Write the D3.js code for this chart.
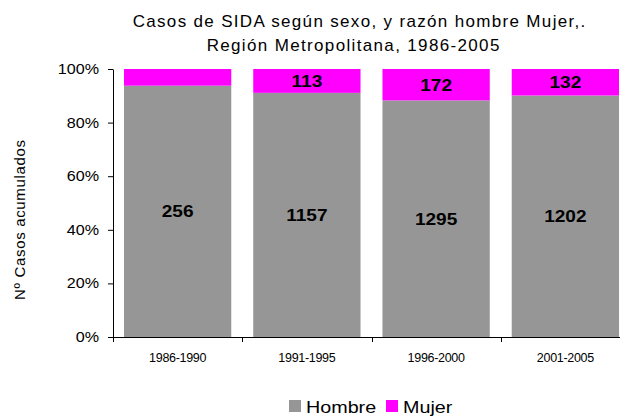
<!DOCTYPE html>
<html>
<head>
<meta charset="utf-8">
<script src="https://cdn.jsdelivr.net/npm/d3@7"></script>
<style>
  body { margin: 0; background: #fff; }
  svg { display: block; font-family: "Liberation Sans", Arial, sans-serif; }
</style>
</head>
<body>
<svg id="chart" width="626" height="416"></svg>
<script>
// chart data
const periods = ['1986-1990', '1991-1995', '1996-2000', '2001-2005'];
const hombre = [256, 1157, 1295, 1202];
const mujer = [17, 113, 172, 132];
const yTicks = [0, 0.2, 0.4, 0.6, 0.8, 1];
const seriesNames = ['Hombre', 'Mujer'];
const colors = ['#969696', '#ff00ff'];

const svg = d3.select('#chart');
const plot = {left: 113, top: 69, bottom: 337, right: 630};

// the original text is rendered a bit wider than Arial, widen it
function widen(sel, f, mode) {
  sel.each(function() {
    const len = this.getComputedTextLength();
    d3.select(this)
      .attr('textLength', len * f)
      .attr('lengthAdjust', mode || 'spacingAndGlyphs');
  });
}

const rows = periods.map((p, i) => ({period: p, Hombre: hombre[i], Mujer: mujer[i]}));
const stacked = d3.stack().keys(seriesNames).offset(d3.stackOffsetExpand)(rows);

const x = d3.scaleBand()
  .domain(periods)
  .range([plot.left, plot.right])
  .paddingInner(0.17)
  .paddingOuter(0.085);

const y = d3.scaleLinear()
  .domain([0, 1])
  .range([plot.bottom, plot.top]);

// title
svg.append('text')
  .attr('x', 359).attr('y', 27)
  .attr('text-anchor', 'middle')
  .attr('font-size', 17)
  .text('Casos de SIDA según sexo, y razón hombre Mujer,.')
  .call(widen, 1.16, 'spacing');
svg.append('text')
  .attr('x', 353).attr('y', 51)
  .attr('text-anchor', 'middle')
  .attr('font-size', 17)
  .text('Región Metropolitana, 1986-2005')
  .call(widen, 1.16, 'spacing');

// bars
const layers = svg.append('g')
  .selectAll('g')
  .data(stacked)
  .join('g')
    .attr('fill', (d, i) => colors[i]);

layers.selectAll('rect')
  .data(d => d)
  .join('rect')
    .attr('x', d => x(d.data.period))
    .attr('y', d => y(d[1]))
    .attr('width', x.bandwidth())
    .attr('height', d => y(d[0]) - y(d[1]));

// value labels (first Mujer segment has no label)
stacked.forEach((layer, li) => {
  svg.append('g')
    .selectAll('text')
    .data(layer.filter((d, i) => !(li === 1 && i === 0)))
    .join('text')
      .attr('x', d => x(d.data.period) + x.bandwidth() / 2)
      .attr('y', d => (y(d[0]) + y(d[1])) / 2 + 6)
      .attr('text-anchor', 'middle')
      .attr('font-size', 17)
      .attr('font-weight', 'bold')
      .text(d => d.data[layer.key])
      .call(widen, 1.12);
});

// y axis
const yAxis = d3.axisLeft(y)
  .tickValues(yTicks)
  .tickFormat(d3.format('.0%'))
  .tickSize(5)
  .tickSizeOuter(0);

const yG = svg.append('g')
  .attr('transform', `translate(${plot.left},0)`)
  .call(yAxis);
yG.select('.domain').attr('stroke', '#000');
yG.selectAll('.tick line').attr('stroke', '#000');
yG.selectAll('.tick text')
  .attr('font-size', 14)
  .attr('font-family', '"Liberation Sans", Arial, sans-serif')
  .attr('fill', '#000')
  .attr('x', -14)
  .call(widen, 1.15);

// x axis: ticks at category boundaries
const step = x.step();
const boundaries = periods.map(p => x(p) - step * 0.085);
const xG = svg.append('g').attr('transform', `translate(0,${plot.bottom})`);
xG.append('line')
  .attr('x1', plot.left).attr('x2', 620)
  .attr('y1', 0.5).attr('y2', 0.5)
  .attr('stroke', '#000');
xG.selectAll('.bt')
  .data(boundaries)
  .join('line')
    .attr('class', 'bt')
    .attr('x1', d => Math.round(d) + 0.5).attr('x2', d => Math.round(d) + 0.5)
    .attr('y1', 0).attr('y2', 5)
    .attr('stroke', '#000');
xG.selectAll('.lbl')
  .data(periods)
  .join('text')
    .attr('class', 'lbl')
    .attr('x', d => x(d) + x.bandwidth() / 2)
    .attr('y', 25)
    .attr('text-anchor', 'middle')
    .attr('font-size', 12.5)
    .attr('letter-spacing', -0.3)
    .text(d => d);

// y axis title
svg.append('text')
  .attr('transform', 'translate(25,220) rotate(-90)')
  .attr('text-anchor', 'middle')
  .attr('font-size', 15)
  .text('Nº Casos acumulados')
  .call(widen, 1.08, 'spacing');

// legend
const legend = svg.append('g').attr('transform', 'translate(289,400)');
const items = [
  {name: 'Hombre', x: 0},
  {name: 'Mujer', x: 97}
];
items.forEach((it, i) => {
  legend.append('rect')
    .attr('x', it.x).attr('y', 0)
    .attr('width', 12).attr('height', 12)
    .attr('fill', colors[i]);
  legend.append('text')
    .attr('x', it.x + 17).attr('y', 13)
    .attr('font-size', 17)
    .text(it.name)
    .call(widen, 1.16);
});
</script>
</body>
</html>
